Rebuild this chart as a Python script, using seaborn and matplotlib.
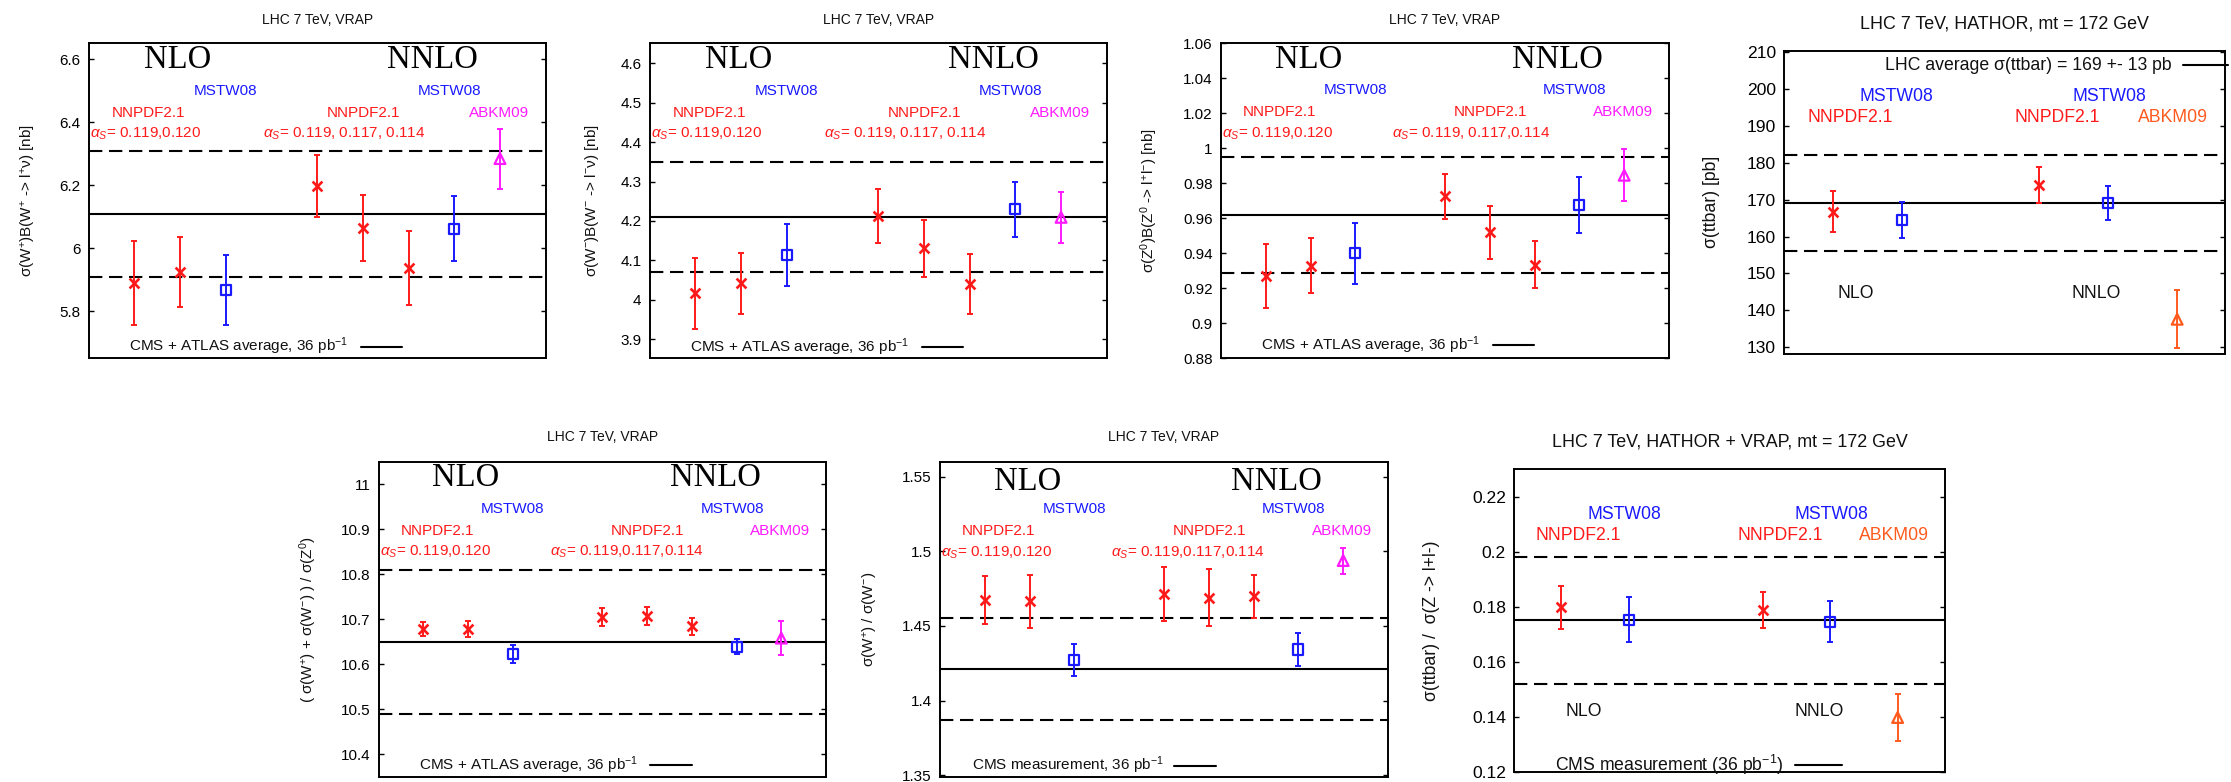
import numpy as np
import pandas as pd
import matplotlib
matplotlib.use("Agg")
import matplotlib.pyplot as plt
from matplotlib.ticker import FuncFormatter
import seaborn as sns

# ---------------- data ----------------
vrap_nnpdf_x = [1, 2, 5, 6, 7]
vrap_mstw_x = [3, 8]
vrap_abkm_x = [9]
tt_nnpdf_x = [1, 4]
tt_mstw_x = [2, 5]
tt_abkm_x = [6]

wp_nnpdf = [5.890, 5.926, 6.197, 6.064, 5.938]
wp_nnpdf_err = [0.133, 0.111, 0.098, 0.105, 0.117]
wp_mstw = [5.869, 6.062]
wp_mstw_err = [0.111, 0.103]
wp_abkm = [6.285]
wp_abkm_err = [0.095]
wp_meas, wp_band = 6.11, 0.20

wm_nnpdf = [4.016, 4.041, 4.213, 4.130, 4.040]
wm_nnpdf_err = [0.090, 0.077, 0.068, 0.072, 0.076]
wm_mstw = [4.113, 4.229]
wm_mstw_err = [0.078, 0.071]
wm_abkm = [4.209]
wm_abkm_err = [0.064]
wm_meas, wm_band = 4.21, 0.14

z_nnpdf = [0.927, 0.933, 0.9725, 0.952, 0.9335]
z_nnpdf_err = [0.0185, 0.0157, 0.013, 0.015, 0.0134]
z_mstw = [0.940, 0.9675]
z_mstw_err = [0.0174, 0.016]
z_abkm = [0.9846]
z_abkm_err = [0.0148]
z_meas, z_band = 0.962, 0.033

tt_nnpdf = [166.7, 173.9]
tt_nnpdf_err = [5.5, 4.8]
tt_mstw = [164.5, 169.2]
tt_mstw_err = [4.9, 4.6]
tt_abkm = [137.6]
tt_abkm_err = [7.8]
tt_meas, tt_band = 169.0, 13.0

wz_nnpdf = [10.678, 10.679, 10.706, 10.707, 10.684]
wz_nnpdf_err = [0.015, 0.018, 0.020, 0.020, 0.018]
wz_mstw = [10.623, 10.639]
wz_mstw_err = [0.020, 0.017]
wz_abkm = [10.658]
wz_abkm_err = [0.037]
wz_meas, wz_band = 10.65, 0.16

wr_nnpdf = [1.4672, 1.4664, 1.4713, 1.4688, 1.4699]
wr_nnpdf_err = [0.016, 0.018, 0.018, 0.019, 0.0145]
wr_mstw = [1.4271, 1.4342]
wr_mstw_err = [0.0107, 0.011]
wr_abkm = [1.4938]
wr_abkm_err = [0.0087]
wr_meas, wr_band = 1.421, 0.034

tz_nnpdf = [0.1798, 0.1788]
tz_nnpdf_err = [0.0078, 0.0066]
tz_mstw = [0.1753, 0.1745]
tz_mstw_err = [0.0081, 0.0074]
tz_abkm = [0.1397]
tz_abkm_err = [0.0084]
tz_meas, tz_band = 0.175, 0.023

# ---------------- style ----------------
sns.set_theme(style="ticks")
plt.rcParams["font.family"] = ["Liberation Sans", "DejaVu Sans"]
plt.rcParams["mathtext.fontset"] = "custom"
plt.rcParams["mathtext.rm"] = "Liberation Sans"
plt.rcParams["mathtext.it"] = "Liberation Sans:italic"
plt.rcParams["mathtext.sf"] = "Liberation Sans"

RED = "#ff1a1a"
BLUE = "#1a1aff"
MAG = "#ff1aff"
ORA = "#ff5a1e"
DASH = (0, (6.4, 3.2))

W, H = 2231, 782
fig = plt.figure(figsize=(W / 100, H / 100), dpi=100)


def make_ax(L, R, T, B):
    return fig.add_axes([L / W, 1 - B / H, (R - L) / W, (B - T) / H])


def fmt(v, pos):
    return "%g" % round(v, 6)


def draw(ax, xs, ys, errs, color, marker):
    ax.errorbar(xs, ys, yerr=errs, fmt="none", ecolor=color, elinewidth=1.4,
                capsize=2.0, capthick=1.4, zorder=3)
    df = pd.DataFrame({"x": xs, "y": ys})
    if marker == "x":
        sns.scatterplot(data=df, x="x", y="y", ax=ax, marker="x", color=color,
                        s=50, linewidth=1.9, zorder=4)
    else:
        sns.scatterplot(data=df, x="x", y="y", ax=ax, marker=marker,
                        s=52 if marker == "s" else 60,
                        facecolors="none", edgecolor=color, linewidth=1.6, zorder=4)


def base(ax, ylim, ticks, meas, band, fs):
    ax.axhline(meas, color="black", lw=1.5, zorder=2)
    ax.axhline(meas + band, color="black", lw=1.5, ls=DASH, zorder=2)
    ax.axhline(meas - band, color="black", lw=1.5, ls=DASH, zorder=2)
    ax.set_ylim(*ylim)
    ax.set_yticks(ticks)
    ax.yaxis.set_major_formatter(FuncFormatter(fmt))
    ax.set_xticks([])
    ax.tick_params(axis="y", direction="in", left=True, right=True, length=3.8,
                   width=1.0, labelsize=fs, colors="black", pad=6)
    for sp in ax.spines.values():
        sp.set_visible(True)
        sp.set_color("black")
        sp.set_linewidth(1.4)


def finish(ax, xlim, ylim):
    ax.set_xlim(*xlim)
    ax.set_ylim(*ylim)
    ax.set_xlabel("")
    ax.set_ylabel("")
    ax.set_xticks([])


def legend_line(ax, text_end, x1, x2, y, label, fs):
    ax.text(text_end, y, label, ha="right", va="center", fontsize=fs, color="#111111")
    ax.plot([x1, x2], [y, y], color="black", lw=1.5, clip_on=False)


def fig_title(L, R, yc, s, fs):
    fig.text((L + R) / 2 / W, 1 - yc / H, s, ha="center", va="center", fontsize=fs, color="#111111")


def fig_ylabel(xc, T, B, s, fs):
    fig.text(xc / W, 1 - (T + B) / 2 / H, s, rotation=90, ha="center", va="center",
             fontsize=fs, color="#111111")


def vrap_panel(box, ylim, ticks, nn, nne, ms, mse, ab, abe, meas, band,
               ylab, ylab_x, title_y, ys_lbl, as1, as2, leg, leg_pos):
    L, R, T, B = box
    ax = make_ax(L, R, T, B)
    base(ax, ylim, ticks, meas, band, 11)
    draw(ax, vrap_nnpdf_x, nn, nne, RED, "x")
    draw(ax, vrap_mstw_x, ms, mse, BLUE, "s")
    draw(ax, vrap_abkm_x, ab, abe, MAG, "^")
    finish(ax, (0, 10), ylim)
    y_nlo, y_ms, y_nn, y_as = ys_lbl
    kw = dict(ha="center", va="center", fontsize=11)
    ax.text(1.95, y_nlo, "NLO", ha="center", va="center", fontsize=23.5,
            family="Liberation Serif", color="black")
    ax.text(7.52, y_nlo, "NNLO", ha="center", va="center", fontsize=23.5,
            family="Liberation Serif", color="black")
    ax.text(3.0, y_ms, "MSTW08", color=BLUE, **kw)
    ax.text(7.9, y_ms, "MSTW08", color=BLUE, **kw)
    ax.text(1.31, y_nn, "NNPDF2.1", color=RED, **kw)
    ax.text(6.01, y_nn, "NNPDF2.1", color=RED, **kw)
    ax.text(8.97, y_nn, "ABKM09", color=MAG, **kw)
    ax.text(0.02, y_as, r"$\alpha_S$= " + as1, color=RED, ha="left", va="center", fontsize=11)
    ax.text(3.82, y_as, r"$\alpha_S$= " + as2, color=RED, ha="left", va="center", fontsize=11)
    te, x1, x2, yl = leg_pos
    legend_line(ax, te, x1, x2, yl, leg, 11)
    fig_title(L, R, title_y, "LHC 7 TeV, VRAP", 10)
    fig_ylabel(ylab_x, T, B, ylab, 11)
    return ax


def tt_panel(box, ylim, ticks, nn, nne, ms, mse, ab, abe, meas, band,
             ylab, ylab_x, title, title_y, ys_lbl, leg, leg_pos):
    L, R, T, B = box
    ax = make_ax(L, R, T, B)
    base(ax, ylim, ticks, meas, band, 12.6)
    draw(ax, tt_nnpdf_x, nn, nne, RED, "x")
    draw(ax, tt_mstw_x, ms, mse, BLUE, "s")
    draw(ax, tt_abkm_x, ab, abe, ORA, "^")
    finish(ax, (0.3, 6.7), ylim)
    y_ms, y_nn, y_nlo = ys_lbl
    kw = dict(ha="center", va="center", fontsize=12.7)
    ax.text(1.93, y_ms, "MSTW08", color=BLUE, **kw)
    ax.text(5.01, y_ms, "MSTW08", color=BLUE, **kw)
    ax.text(1.25, y_nn, "NNPDF2.1", color=RED, **kw)
    ax.text(4.26, y_nn, "NNPDF2.1", color=RED, **kw)
    ax.text(5.94, y_nn, "ABKM09", color=ORA, **kw)
    ax.text(1.34, y_nlo, "NLO", color="#111111", **kw)
    ax.text(4.83, y_nlo, "NNLO", color="#111111", **kw)
    te, x1, x2, yl = leg_pos
    legend_line(ax, te, x1, x2, yl, leg, 12.7)
    fig_title(L, R, title_y, title, 12.9)
    fig_ylabel(ylab_x, T, B, ylab, 12.7)
    return ax


leg_ca = r"CMS + ATLAS average, 36 pb$^{-1}$"

vrap_panel((88.6, 545.7, 43.3, 358.3), (5.651, 6.651), [5.8, 6.0, 6.2, 6.4, 6.6],
           wp_nnpdf, wp_nnpdf_err, wp_mstw, wp_mstw_err, wp_abkm, wp_abkm_err,
           wp_meas, wp_band,
           r"σ(W$^{+}$)B(W$^{+}$ -> l$^{+}$ν) [nb]", 28.6, 20,
           (6.598, 6.50, 6.431, 6.363), "0.119,0.120", "0.119, 0.117, 0.114",
           leg_ca, (5.68, 5.95, 6.85, 5.688))

vrap_panel((649.6, 1106.8, 43.3, 358.3), (3.851, 4.651), [3.9, 4.0, 4.1, 4.2, 4.3, 4.4, 4.5, 4.6],
           wm_nnpdf, wm_nnpdf_err, wm_mstw, wm_mstw_err, wm_abkm, wm_abkm_err,
           wm_meas, wm_band,
           r"σ(W$^{-}$)B(W$^{-}$ -> l$^{-}$ν) [nb]", 591.8, 20,
           (4.608, 4.531, 4.475, 4.4205), "0.119,0.120", "0.119, 0.117, 0.114",
           leg_ca, (5.69, 5.96, 6.86, 3.88))

vrap_panel((1221, 1669, 43.3, 358.3), (0.88, 1.06), [0.88, 0.9, 0.92, 0.94, 0.96, 0.98, 1.0, 1.02, 1.04, 1.06],
           z_nnpdf, z_nnpdf_err, z_mstw, z_mstw_err, z_abkm, z_abkm_err,
           z_meas, z_band,
           r"σ(Z$^{0}$)B(Z$^{0}$ -> l$^{+}$l$^{-}$) [nb]", 1149.6, 20,
           (1.0508, 1.0333, 1.0206, 1.0084), "0.119,0.120", "0.119, 0.117,0.114",
           leg_ca, (5.79, 6.08, 6.98, 0.8875))

tt_panel((1784.4, 2225.4, 50.7, 354), (128.2, 210.3), [130, 140, 150, 160, 170, 180, 190, 200, 210],
         tt_nnpdf, tt_nnpdf_err, tt_mstw, tt_mstw_err, tt_abkm, tt_abkm_err,
         tt_meas, tt_band,
         "σ(ttbar) [pb]", 1711.6, "LHC 7 TeV, HATHOR, mt = 172 GeV", 24,
         (198.0, 192.2, 144.5),
         "LHC average σ(ttbar) = 169 +- 13 pb", (5.92, 6.08, 6.74, 206.4))

vrap_panel((378.7, 826, 461.7, 776.7), (10.35, 11.05), [10.4, 10.5, 10.6, 10.7, 10.8, 10.9, 11.0],
           wz_nnpdf, wz_nnpdf_err, wz_mstw, wz_mstw_err, wz_abkm, wz_abkm_err,
           wz_meas, wz_band,
           r"( σ(W$^{+}$) + σ(W$^{-}$) ) / σ(Z$^{0}$)", 308.3, 437.3,
           (11.015, 10.945, 10.897, 10.849), "0.119,0.120", "0.119,0.117,0.114",
           leg_ca, (5.80, 6.07, 7.0, 10.375))

vrap_panel((940, 1388, 461.7, 776.7), (1.349, 1.56), [1.35, 1.4, 1.45, 1.5, 1.55],
           wr_nnpdf, wr_nnpdf_err, wr_mstw, wr_mstw_err, wr_abkm, wr_abkm_err,
           wr_meas, wr_band,
           r"σ(W$^{+}$) / σ(W$^{-}$)", 870, 437.3,
           (1.5464, 1.5283, 1.5138, 1.4993), "0.119,0.120", "0.119,0.117,0.114",
           r"CMS measurement, 36 pb$^{-1}$", (5.0, 5.22, 6.16, 1.3564))

tt_panel((1514.3, 1944.7, 469, 771.7), (0.12, 0.23), [0.12, 0.14, 0.16, 0.18, 0.2, 0.22],
         tz_nnpdf, tz_nnpdf_err, tz_mstw, tz_mstw_err, tz_abkm, tz_abkm_err,
         tz_meas, tz_band,
         "σ(ttbar) /  σ(Z -> l+l-)", 1431.7, "LHC 7 TeV, HATHOR + VRAP, mt = 172 GeV", 441.7,
         (0.2136, 0.2060, 0.1418),
         r"CMS measurement (36 pb$^{-1}$)", (4.30, 4.48, 5.17, 0.1225))

fig.savefig("out.png", dpi=100, facecolor="white")
